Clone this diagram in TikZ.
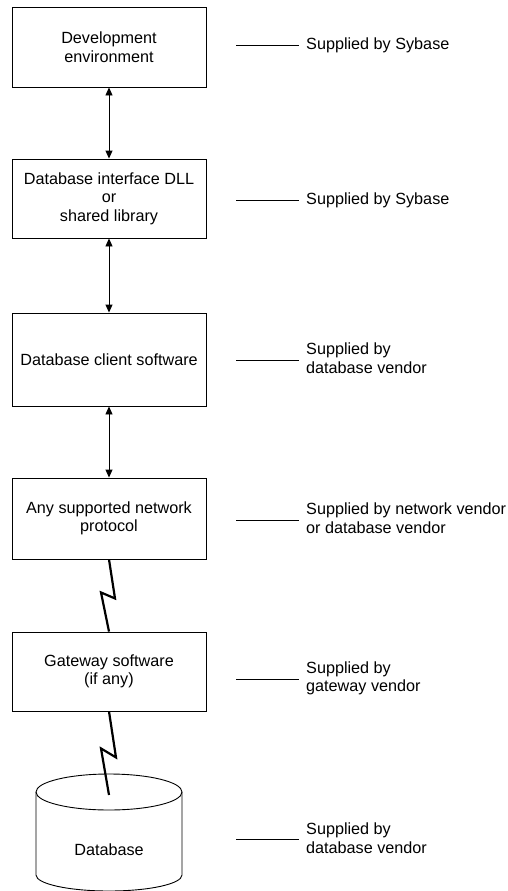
\documentclass[tikz,border=0pt]{standalone}
\usepackage{fontspec}
\setmainfont{Liberation Sans}
\usetikzlibrary{arrows.meta}
\begin{document}
\begin{tikzpicture}[x=1pt,y=-1pt,
  box/.style={draw, line width=0.9pt, minimum width=194pt, inner sep=0pt, align=center, font=\fontsize{16.2}{18.5}\selectfont},
  lbl/.style={anchor=west, inner sep=0pt, align=left, font=\fontsize{16.2}{18.5}\selectfont},
  tick/.style={line width=0.9pt},
  link/.style={line width=0.9pt, {Triangle[width=7pt,length=8pt]}-{Triangle[width=7pt,length=8pt]}},
  bolt/.style={line width=2.2pt, line join=miter, miter limit=20}]
\useasboundingbox (0,0) rectangle (508,891);
% boxes
\node[box, minimum height=80pt] (b1) at (109,47) {Development\\environment};
\node[box, minimum height=79pt] (b2) at (109,198.5) {Database interface DLL\\or\\shared library};
\node[box, minimum height=93pt] (b3) at (109,359.5) {Database client software};
\node[box, minimum height=81pt] (b4) at (109,518.5) {Any supported network\\protocol};
\node[box, minimum height=79pt] (b5) at (109,671.5) {Gateway software\\(if any)};
% database cylinder
\coordinate (ctl) at (36,792);
\coordinate (ctr) at (182,792);
\coordinate (cbl) at (36,875);
\coordinate (cbr) at (182,875);
\draw[line width=0.9pt] (109,792) ellipse [x radius=73, y radius=18];
\draw[line width=0.9pt] (ctl) -- (cbl) arc[start angle=180, end angle=360, x radius=73, y radius=-16] -- (ctr);
\node[font=\fontsize{16.2}{18.5}\selectfont, inner sep=0pt] (db) at (109,850) {Database};
% connectors
\draw[link] (b1.south) -- (b2.north);
\draw[link] (b2.south) -- (b3.north);
\draw[link] (b3.south) -- (b4.north);
\coordinate (dbhit) at (109,795);
\draw[bolt] (b4.south) -- ++(6,39) -- ++(-14,-6) -- (b5.north);
\draw[bolt] (b5.south) -- ++(7,46) -- ++(-15,-9) -- (dbhit);
% labels
\coordinate (t1a) at (236,45);  \coordinate (t1b) at (299,45);
\coordinate (t2a) at (236,200); \coordinate (t2b) at (299,200);
\coordinate (t3a) at (236,360); \coordinate (t3b) at (299,360);
\coordinate (t4a) at (236,520); \coordinate (t4b) at (299,520);
\coordinate (t5a) at (236,679); \coordinate (t5b) at (299,679);
\coordinate (t6a) at (236,839); \coordinate (t6b) at (299,839);
\draw[tick] (t1a) -- (t1b);
\draw[tick] (t2a) -- (t2b);
\draw[tick] (t3a) -- (t3b);
\draw[tick] (t4a) -- (t4b);
\draw[tick] (t5a) -- (t5b);
\draw[tick] (t6a) -- (t6b);
\node[lbl] (l1) at (306,45) {Supplied by Sybase};
\node[lbl] (l2) at (306,200) {Supplied by Sybase};
\node[lbl] (l3) at (306,358) {Supplied by\\database vendor};
\node[lbl] (l4) at (306,518) {Supplied by network vendor\\or database vendor};
\node[lbl] (l5) at (306,678.5) {Supplied by\\gateway vendor};
\node[lbl] (l6) at (306,838) {Supplied by\\database vendor};
\end{tikzpicture}
\end{document}
